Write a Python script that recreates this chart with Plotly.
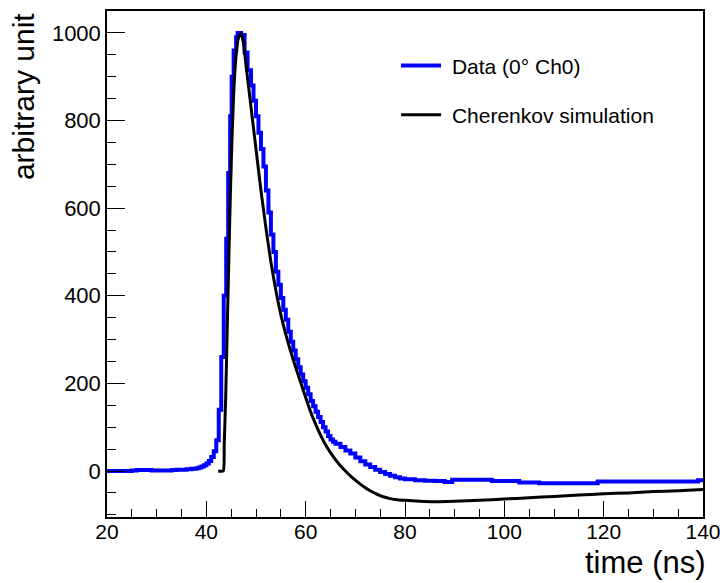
import plotly.graph_objects as go

# Blue histogram (step) : left bin edges and contents
data_t = [20, 22, 24, 25, 26, 28, 29, 31, 33, 34, 35, 36, 37, 38, 38.5, 39, 39.5, 40, 40.5, 41,
          41.5, 42, 42.5, 43, 43.5, 44, 44.4, 44.8, 45.1, 45.5, 46.0, 46.3, 47.0, 47.7, 48.3, 49.0,
          49.5, 50.0, 50.5, 51.0, 51.5, 52.0, 52.5, 53.0, 53.5, 54.0, 54.5, 55.0, 55.5, 56.0, 56.5,
          57.0, 57.5, 58.0, 58.5, 59.0, 59.5, 60, 60.5, 61, 61.5, 62, 62.5, 63, 63.5, 64, 64.5, 65,
          65.5, 66, 67, 68, 69, 70, 71, 72, 73, 74, 75, 76, 77, 78, 79, 80, 82, 84, 86, 88, 89.5,
          97.5, 103, 107, 118.8, 139, 140]
data_v = [0, 0, 0, 1, 2, 2, 1, 1, 2, 3, 3, 4, 5, 6, 8, 10, 13, 17, 23, 32,
          45, 70, 140, 260, 400, 530, 680, 810, 900, 960, 990, 1000, 995, 955, 915, 880,
          845, 810, 772, 735, 695, 640, 590, 540, 500, 455, 425, 395, 368, 345, 318,
          295, 275, 255, 237, 220, 205, 190, 175, 160, 148, 135, 123, 112, 100, 90, 80, 72,
          67, 62, 55, 47, 40, 31, 22, 15, 9, 3, -2, -7, -11, -14, -17, -19, -21, -22, -23, -25, -20,
          -23, -26, -28, -24, -21, -21]

# Black simulation curve
sim_t = [42.4, 43.4, 43.6, 43.9, 44.2, 44.6, 45.0, 45.5, 46.0, 46.5, 47.0, 47.5, 48.0, 48.5, 49.0,
         49.5, 50.0, 51.0, 52.0, 53.0, 54.0, 55.0, 56.0, 57.0, 58.0, 59.0, 60.0, 61.0, 62.0, 63.0,
         64.0, 65.0, 66.0, 67.0, 68.0, 69.0, 70.0, 71.0, 72.0, 73.0, 74.0, 75.0, 76.0, 77.0, 78.0,
         80.0, 83.0, 86.0, 90.0, 95.0, 100.0, 105.0, 110.0, 115.0, 120.0, 125.0, 130.0, 135.0, 140.0]
sim_v = [0, 0, 60, 170, 320, 520, 700, 860, 950, 990, 998, 975, 925, 878, 830,
         782, 735, 640, 555, 477, 412, 357, 312, 272, 236, 202, 168, 135, 107, 82,
         60, 42, 26, 12, 0, -11, -21, -30, -38, -45, -51, -56, -60, -63, -65,
         -67, -69, -70, -69, -67, -64, -61, -58, -55, -52, -50, -47, -45, -42]

x_ticks = [20, 40, 60, 80, 100, 120, 140]
y_ticks = [0, 200, 400, 600, 800, 1000]

FONT = "Liberation Sans, Arial, Helvetica, sans-serif"
NB = "\u00a0"

fig = go.Figure()
fig.add_trace(go.Scatter(x=data_t, y=data_v, mode="lines", line=dict(color="#0000ff", width=4, shape="hv"),
                         name=NB + "Data (0° Ch0)", legendgroup="a"))
fig.add_trace(go.Scatter(x=sim_t, y=sim_v, mode="lines",
                         line=dict(color="#000000", width=3, shape="spline", smoothing=0.5),
                         name=NB + "Cherenkov simulation", legendgroup="b"))

fig.update_layout(
    width=720, height=583,
    margin=dict(l=107, r=17, t=11, b=66, autoexpand=False),
    paper_bgcolor="white", plot_bgcolor="white",
    font=dict(family=FONT, size=22, color="black"),
    showlegend=True,
    legend=dict(x=0.485, y=0.932, xanchor="left", yanchor="top", bgcolor="rgba(0,0,0,0)",
                font=dict(size=21), tracegroupgap=19, itemwidth=40),
    xaxis=dict(range=[20, 140], showline=True, mirror=True, linecolor="black", linewidth=1.5,
               ticks="inside", ticklen=16, tickwidth=1.2, tickcolor="black",
               tickmode="array", tickvals=x_ticks, ticktext=[str(v) for v in x_ticks],
               tickfont=dict(size=21),
               ticklabelstandoff=-5, ticklabeloverflow="allow", automargin=False,
               showgrid=False, zeroline=False,
               minor=dict(dtick=5, tick0=20, ticklen=8, ticks="inside", tickcolor="black", tickwidth=1.2,
                          showgrid=False)),
    yaxis=dict(range=[-105, 1050], showline=True, mirror=True, linecolor="black", linewidth=1.5,
               ticks="inside", ticklen=18, tickwidth=1.2, tickcolor="black",
               tickmode="array", tickvals=y_ticks, ticktext=[str(v) for v in y_ticks],
               ticklabeloverflow="allow", automargin=False,
               showgrid=False, zeroline=False,
               minor=dict(dtick=50, tick0=0, ticklen=9, ticks="inside", tickcolor="black", tickwidth=1.2,
                          showgrid=False)),
    annotations=[
        dict(text="time (ns)", xref="paper", yref="paper", x=1.008, y=-0.09, xanchor="right", yanchor="middle",
             showarrow=False, font=dict(size=31)),
        dict(text="arbitrary unit", xref="paper", yref="paper", x=-0.14, y=1.0, xanchor="center", yanchor="top",
             textangle=-90, showarrow=False, font=dict(size=30)),
    ],
)

fig.write_html("out.html")
